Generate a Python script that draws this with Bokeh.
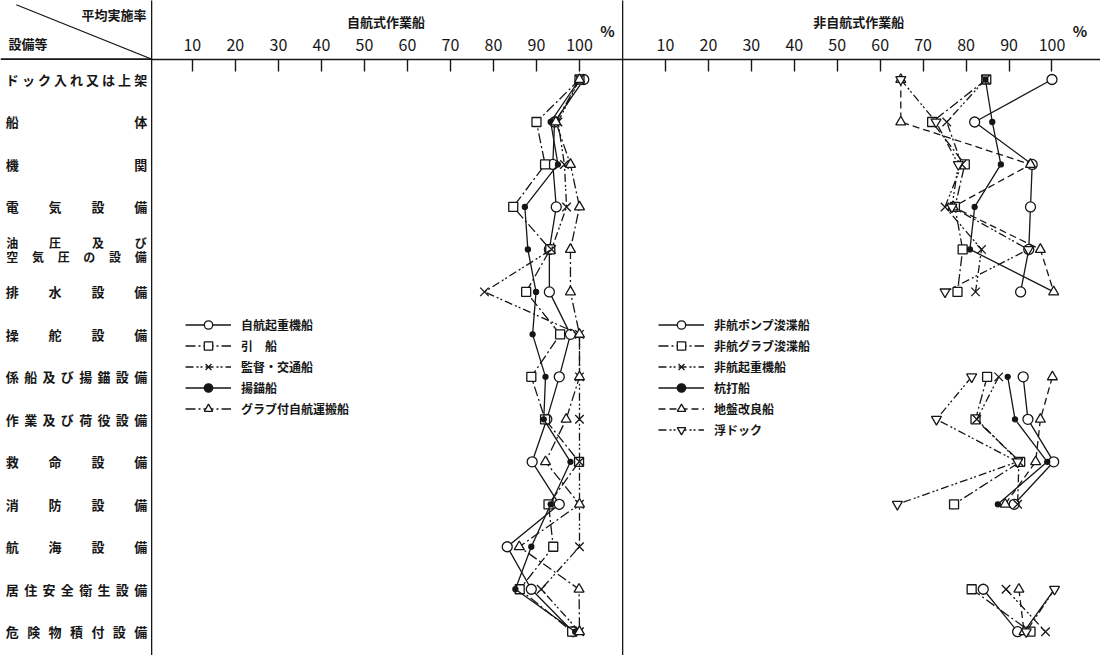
import numpy as np
from bokeh.plotting import figure
from bokeh.layouts import row
from bokeh.models import (Range1d, LinearAxis, FixedTicker, Span, Legend, LegendItem,
                          Label, ColumnDataSource)
from bokeh.core.properties import value
from bokeh.embed import file_html
from bokeh.resources import INLINE

FONT = "Noto Sans CJK JP"
INK = "#161616"

# ---------------- data ----------------
categories = ["ドック入れ又は上架", "船体", "機関", "電気設備", "油圧及び\n空気圧の設備",
              "排水設備", "操舵設備", "係船及び揚錨設備", "作業及び荷役設備", "救命設備",
              "消防設備", "航海設備", "居住安全衛生設備", "危険物積付設備"]
tick_values = [10, 20, 30, 40, 50, 60, 70, 80, 90, 100]
tick_labels = ["10", "20", "30", "40", "50", "60", "70", "80", "90", "100"]
panel_titles = ["自航式作業船", "非自航式作業船"]
header_top = "平均実施率"
header_left = "設備等"
unit = "%"

# 自航式作業船 (self-propelled)
jiko_names = ["自航起重機船", "引　船", "監督・交通船", "揚錨船", "グラブ付自航運搬船"]
jiko_crane = [101, 94.2, 93.8, 94.6, 93, 93, 97.9, 95.3, 92.4, 89, 95.3, 83.2, 88.8, 98.5]
jiko_tug = [100, 90, 92, 84.6, 93.2, 87.6, 95.5, 88.8, 92, 99.9, 92.8, 93.9, 86.1, 98.3]
jiko_patrol = [100, 95, 96.5, 97, 93.5, 77.9, 100, 100, 100, 100, 100, 100, 91.1, 100]
jiko_anchor = [100, 93.3, 95, 87.3, 88, 89.9, 89.1, 92.1, 91.7, 97.9, 93.3, 88.8, 85.1, 99]
jiko_grab = [100, 94.5, 97.9, 100, 97.9, 97.9, 100, 100, 96.9, 92.1, 100, 86, 99.9, 100]

# 非自航式作業船 (non-self-propelled); None = no data
hiko_names = ["非航ポンプ浚渫船", "非航グラブ浚渫船", "非航起重機船", "杭打船", "地盤改良船", "浮ドック"]
hiko_pump = [100, 82, 95.4, 95, 94.6, 92.7, None, 93.3, 94.4, 100.4, 91.2, None, 84, 92]
hiko_grab = [84.7, 72.1, 79.7, 77.4, 79.2, 78, None, 84.9, 82.2, 92.6, 77.2, None, 81.3, 95]
hiko_crane = [84.5, 75.5, 79, 75.1, 83.6, 82.2, None, 87.6, 82.5, 92.3, 92, None, 89.3, 98.5]
hiko_pile = [84.5, 86.1, 88.1, 82, 80.9, 100.4, None, 89.7, 91.4, 98.9, 87.4, None, 100.6, 93.5]
hiko_ground = [64.8, 64.8, 95, 77, 97.3, 100.4, None, 100.1, 97.3, 96.2, 89.1, None, 92.3, 93.5]
hiko_dock = [64.8, 73, 78.2, 76.7, 94.5, 75.1, None, 81.3, 73.1, 92, 64, None, 100.6, 94]

# ---------------- styles ----------------
STY = {
    "circle": dict(marker="circle", size=10, fill="white"),
    "square": dict(marker="square", size=9, fill="white"),
    "x": dict(marker="x", size=12, fill=None),
    "dot": dict(marker="circle", size=5, fill=INK),
    "tri": dict(marker="triangle", size=10, fill="white"),
    "itri": dict(marker="inverted_triangle", size=10, fill="white"),
}
left_series = [
    (jiko_names[0], jiko_crane, "circle", "solid"),
    (jiko_names[1], jiko_tug, "square", "10 3 2 3"),
    (jiko_names[2], jiko_patrol, "x", "8 3 2 2 2 3"),
    (jiko_names[3], jiko_anchor, "dot", "solid"),
    (jiko_names[4], jiko_grab, "tri", "10 3 2 3"),
]
right_series = [
    (hiko_names[0], hiko_pump, "circle", "solid"),
    (hiko_names[1], hiko_grab, "square", "10 3 2 3"),
    (hiko_names[2], hiko_crane, "x", "8 3 2 2 2 3"),
    (hiko_names[3], hiko_pile, "dot", "solid"),
    (hiko_names[4], hiko_ground, "tri", "7 4"),
    (hiko_names[5], hiko_dock, "itri", "8 3 2 2 2 3"),
]

H = 655
W_LAB, W_L, W_R = 151, 471, 478
Y_TOP, Y_BOT, HEADER_Y = -1.86, 13.56, -0.48
rows = np.arange(len(categories), dtype=float)


def base_fig(width, xr):
    p = figure(width=width, height=H, x_range=xr, y_range=Range1d(Y_BOT, Y_TOP),
               x_axis_type=None, y_axis_type=None, min_border=0,
               toolbar_location=None, output_backend="svg")
    p.outline_line_color = None
    p.background_fill_color = "white"
    p.border_fill_color = "white"
    p.grid.visible = False
    return p


# ---------------- label column ----------------
pl = base_fig(W_LAB, Range1d(0, 153))
xs, ys, chars, sizes = [], [], [], []
for i, lab in enumerate(categories):
    lines = lab.split("\n")
    nl = len(lines)
    for j, ln in enumerate(lines):
        yy = i + (j - (nl - 1) / 2) * 0.31
        n = len(ln)
        for k, ch in enumerate(ln):
            xs.append(12 + (142 - 12) * k / (n - 1))
            ys.append(yy)
            chars.append(ch)
            sizes.append("13px" if nl == 1 else "12px")
src = ColumnDataSource(dict(x=xs, y=ys, t=chars, s=sizes))
pl.text(x="x", y="y", text="t", source=src, text_font=value(FONT), text_font_size="s",
        text_font_style="bold", text_align="center", text_baseline="middle", text_color=INK)
pl.add_layout(Span(location=HEADER_Y, dimension="width", line_color=INK, line_width=1.6))
pl.segment(x0=[16], y0=[-1.76], x1=[153], y1=[HEADER_Y], line_color=INK, line_width=1.3)
pl.add_layout(Label(x=148, y=-1.52, text=header_top, text_font=FONT, text_font_size="13px",
                    text_font_style="bold", text_align="right", text_baseline="middle",
                    text_color=INK))
pl.add_layout(Label(x=8, y=-0.84, text=header_left, text_font=FONT, text_font_size="13px",
                    text_font_style="bold", text_align="left", text_baseline="middle",
                    text_color=INK))


def panel(width, xr, title, series, legend_loc):
    p = base_fig(width, xr)
    yax = LinearAxis(ticker=FixedTicker(ticks=[], minor_ticks=[]), major_tick_out=0,
                     major_tick_in=0, minor_tick_out=0, minor_tick_in=0,
                     major_label_standoff=0, major_label_text_font_size="0px",
                     axis_line_color=INK, axis_line_width=1.6)
    p.add_layout(yax, "left")
    xax = LinearAxis(ticker=FixedTicker(ticks=tick_values, minor_ticks=[]),
                     fixed_location=HEADER_Y,
                     major_label_overrides={v: s for v, s in zip(tick_values, tick_labels)},
                     major_tick_in=12, major_tick_out=0, minor_tick_in=0, minor_tick_out=0,
                     axis_line_color=INK, axis_line_width=1.6,
                     major_tick_line_color=INK, major_tick_line_width=1.4,
                     major_label_text_font=FONT, major_label_text_font_size="16px",
                     major_label_text_color=INK, major_label_standoff=8)
    p.add_layout(xax, "above")
    mid = (tick_values[0] + tick_values[-1]) / 2
    p.add_layout(Label(x=mid, y=-1.36, text=title, text_font=FONT, text_font_size="13px",
                       text_font_style="bold", text_align="center", text_baseline="middle",
                       text_color=INK))
    p.add_layout(Label(x=tick_values[-1] + 6.5, y=-1.15, text=unit, text_font=FONT,
                       text_font_size="15px", text_font_style="bold", text_align="center",
                       text_baseline="middle", text_color=INK))
    items = []
    for name, vals, mk, dash in series:
        v = np.array([np.nan if a is None else a for a in vals], dtype=float)
        st = STY[mk]
        r1 = p.line(x=v, y=rows, line_color=INK, line_width=1.3, line_dash=dash)
        r2 = p.scatter(x=v, y=rows, marker=st["marker"], size=st["size"],
                       fill_color=st["fill"], line_color=INK, line_width=1.3)
        items.append(LegendItem(label=name, renderers=[r1, r2]))
    leg = Legend(items=items, location=legend_loc, border_line_color=None,
                 background_fill_alpha=0, label_text_font=FONT, label_text_font_size="12px",
                 label_text_font_style="bold", label_text_color=INK,
                 glyph_width=46, glyph_height=21, label_height=21, spacing=0,
                 padding=0, margin=0, label_standoff=10)
    p.add_layout(leg)
    return p


p1 = panel(W_L, Range1d(0.5, 110.0), panel_titles[0], left_series, (34, 236))
p2 = panel(W_R, Range1d(0.0, 111.3), panel_titles[1], right_series, (36, 215))

layout = row(pl, p1, p2, spacing=0)
open("out.html", "w").write(file_html(layout, INLINE))
